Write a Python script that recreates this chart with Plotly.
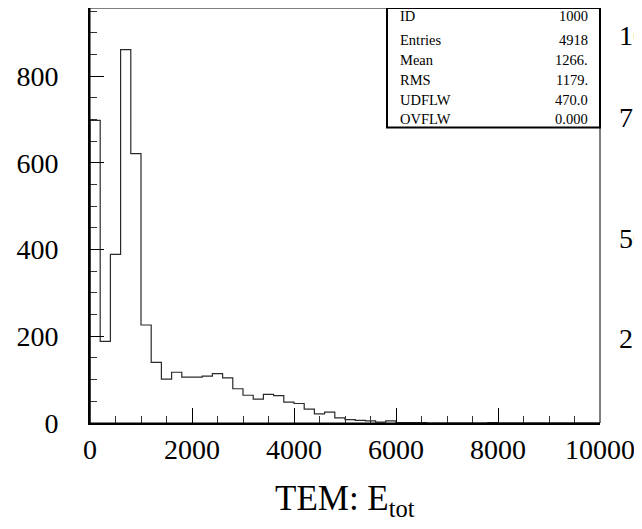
import numpy as np
import plotly.graph_objects as go

# ---------------- data ----------------
bin_start = 0
bin_width = 200
counts = [698, 188, 389, 861, 621, 226, 140, 101, 117, 106,
          106, 108, 114, 104, 79, 64, 55, 66, 63, 48,
          45, 32, 21, 25, 12, 8, 6, 5, 2, 5,
          1, 1, 1, 0, 0, 0, 0, 0, 0, 1,
          0, 0, 0, 0, 0, 0, 0, 0, 0, 0]

x_ticks = [0, 2000, 4000, 6000, 8000, 10000]
y_ticks = [0, 200, 400, 600, 800]

stat_labels = ["ID", "Entries", "Mean", "RMS", "UDFLW", "OVFLW"]
stat_values = ["1000", "4918", "1266.", "1179.", "470.0", "0.000"]

side_labels = ["1000", "750", "500", "250"]

x_title = "TEM: E<sub>tot</sub>"

# ---------------- figure ----------------
edges = bin_start + bin_width * np.arange(len(counts) + 1)
xs = [edges[0]] + list(edges) + [edges[-1]]
ys = [0] + list(counts) + [counts[-1], 0]

OFF = 8  # page body margin
W, H = 642 - OFF, 529 - OFF
# plot area in screen pixels: x 90..600, y 8..423
ml = 90 - OFF
mt = 8 - OFF
mr = W - (600 - OFF)
mb = H - (423 - OFF)
pw, ph = W - ml - mr, H - mt - mb

def px_to_paper_x(px):
    return (px - OFF - ml) / pw

def px_to_paper_y(py):
    return (H - mb - (py - OFF)) / ph

FONT = "Liberation Serif"

fig = go.Figure()
fig.add_trace(go.Scatter(x=xs, y=ys, mode="lines", line_shape="hv",
                         line=dict(color="#2a2a2a", width=1.2),
                         hoverinfo="skip", showlegend=False))

fig.update_layout(
    width=W, height=H,
    margin=dict(l=ml, r=mr, t=mt, b=mb, pad=0, autoexpand=False),
    paper_bgcolor="white", plot_bgcolor="white",
    font=dict(family=FONT, color="black"),
    showlegend=False,
)

fig.update_xaxes(
    range=[0, 10000], tickvals=x_ticks, ticktext=[str(v) for v in x_ticks],
    showgrid=False, zeroline=False, automargin=False,
    showline=True, linewidth=2, linecolor="black",
    ticks="inside", ticklen=15, tickwidth=1.2, tickcolor="black",
    minor=dict(ticks="inside", ticklen=7, dtick=500, tickwidth=1.2, tickcolor="#333", showgrid=False),
    tickfont=dict(family=FONT, size=28, color="black"),
    ticklabelstandoff=0,
)
fig.update_yaxes(
    range=[0, 957], tickvals=y_ticks, ticktext=[str(v) for v in y_ticks],
    showgrid=False, zeroline=False, automargin=False,
    showline=True, linewidth=2, linecolor="black",
    ticks="inside", ticklen=14, tickwidth=1.2, tickcolor="black",
    minor=dict(ticks="inside", ticklen=7, dtick=50, tickwidth=1.2, tickcolor="#333", showgrid=False),
    tickfont=dict(family=FONT, size=28, color="black"),
    ticklabelstandoff=24,
)

# frame (thin top/right)
fig.add_shape(type="rect", xref="paper", yref="paper", x0=0, x1=1, y0=0, y1=1,
              line=dict(color="black", width=1), layer="above")

# stats box
fig.add_shape(type="rect", xref="paper", yref="paper",
              x0=px_to_paper_x(387), x1=1, y0=px_to_paper_y(127.5), y1=1,
              line=dict(color="black", width=2), fillcolor="white", layer="below")

row_y = [15.5, 39.5, 59.5, 79.5, 99.5, 119.5]
for lab, val, ry in zip(stat_labels, stat_values, row_y):
    fig.add_annotation(xref="paper", yref="paper", x=px_to_paper_x(398), y=px_to_paper_y(ry),
                       text=lab, showarrow=False, xanchor="left", yanchor="middle",
                       font=dict(family=FONT, size=14.5, color="black"))
    fig.add_annotation(xref="paper", yref="paper", x=px_to_paper_x(590), y=px_to_paper_y(ry),
                       text=val, showarrow=False, xanchor="right", yanchor="middle",
                       font=dict(family=FONT, size=14.5, color="black"))

# x-axis title
fig.add_annotation(xref="paper", yref="paper", x=0.5, y=px_to_paper_y(500),
                   text=x_title, showarrow=False, xanchor="center", yanchor="middle",
                   font=dict(family=FONT, size=35, color="black"))

# neighbouring-panel labels clipped at the right edge
side_y = [35, 117, 238, 338]
for lab, sy in zip(side_labels, side_y):
    fig.add_annotation(xref="paper", yref="paper", x=px_to_paper_x(617), y=px_to_paper_y(sy),
                       text=lab, showarrow=False, xanchor="left", yanchor="middle",
                       font=dict(family=FONT, size=28, color="black"))

fig.write_html("out.html")
